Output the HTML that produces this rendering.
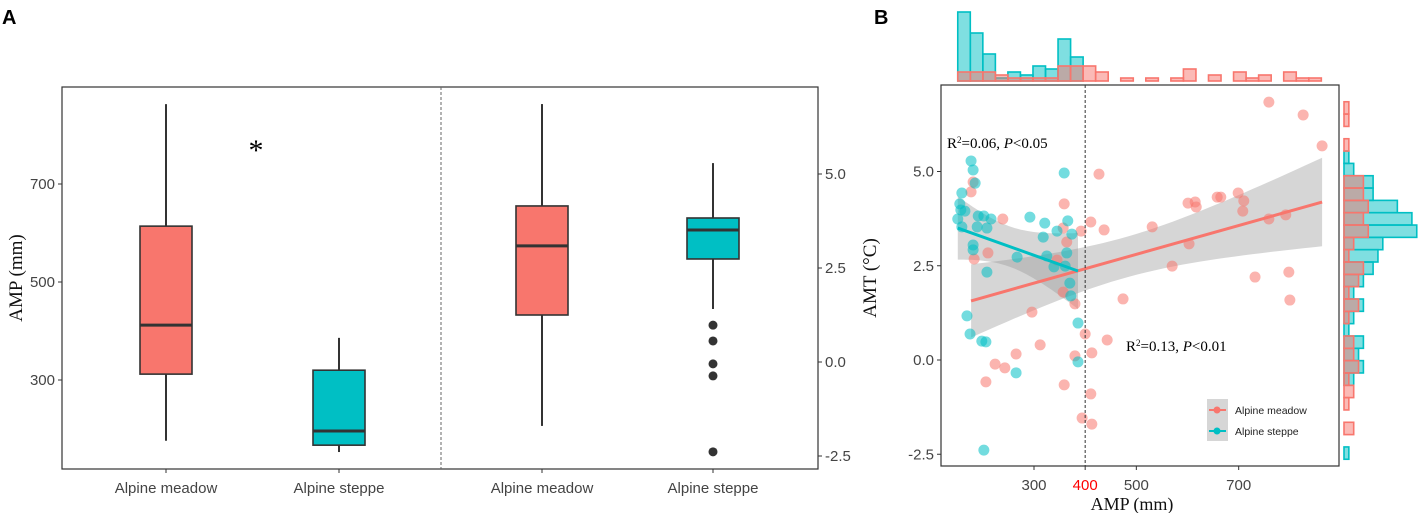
<!DOCTYPE html>
<html><head><meta charset="utf-8">
<style>
html,body{margin:0;padding:0;background:#fff;}
svg{display:block;}
text{font-family:"Liberation Sans",Arial,sans-serif;}
.serif{font-family:"Liberation Serif","Times New Roman",serif;}
</style></head>
<body>
<svg id="chart" width="1418" height="513" viewBox="0 0 1418 513" xmlns="http://www.w3.org/2000/svg">
<text x="2" y="24" font-size="20" font-weight="bold">A</text>
<text x="874" y="24" font-size="20" font-weight="bold">B</text>
<g id="pa"></g>
<g id="pb"></g>
</svg>
<script>
// ---------- Panel A data ----------
const boxCategories = ["Alpine meadow","Alpine steppe"];
const ampStats = [[176,312,412,614,863],[153,167,196,320,386]]; // min,q1,med,q3,max (mm)
const amtStats = [[-1.70,1.25,3.09,4.15,6.86],[1.41,2.74,3.51,3.83,5.29]]; // °C
const amtOutliersSteppe = [0.98,0.56,-0.05,-0.37,-2.39];
const ampTicks = [300,500,700];
const amtTicks = [-2.5,0.0,2.5,5.0];

// ---------- Panel B data ----------
const meadowAMP = [759,826,863,427,181,177,359,601,615,617,658,665,699,710,708,759,792,239,411,437,531,357,392,364,603,183,210,345,570,732,798,800,357,380,474,296,400,443,312,265,380,413,224,243,206,359,411,394,413];
const meadowAMT = [6.84,6.50,5.68,4.93,4.72,4.46,4.14,4.16,4.19,4.06,4.32,4.32,4.43,4.22,3.95,3.74,3.85,3.74,3.66,3.45,3.53,3.50,3.42,3.13,3.08,2.68,2.84,2.65,2.49,2.20,2.33,1.59,1.80,1.49,1.62,1.27,0.69,0.53,0.40,0.16,0.11,0.19,-0.11,-0.21,-0.58,-0.66,-0.90,-1.54,-1.70];
const steppeAMP = [177,181,359,185,159,155,157,165,191,202,216,292,321,366,151,159,189,208,318,345,374,181,181,267,325,339,364,361,370,372,208,169,175,198,206,386,386,265,202];
const steppeAMT = [5.28,5.04,4.96,4.69,4.43,4.14,3.98,3.95,3.82,3.82,3.74,3.79,3.63,3.69,3.74,3.53,3.53,3.50,3.26,3.42,3.34,3.05,2.92,2.73,2.76,2.47,2.84,2.49,2.04,1.70,2.33,1.17,0.69,0.50,0.48,0.98,-0.05,-0.34,-2.39];
const meadowFit = [0.891, 0.003823]; // intercept, slope (reported fit)
const steppeFit = [4.233, -0.00485];
const xTicksB = [300,400,500,700];
const yTicksB = [-2.5,0.0,2.5,5.0];
const histAmpStart = 151, histAmpWidth = 24.5;
const histMeadowX = [3,3,3,2,1,1,1,1,5,5,5,3,0,1,0,1,0,1,4,0,2,0,3,1,2,0,3,1,1];
const histSteppeX = [23,16,9,1,3,2,5,4,14,8,0,0,0,0,0,0,0,0,0,0,0,0,0,0,0,0,0,0,0];
const histAmtTop = 6.85, histAmtWidth = 0.327;
const histMeadowY = [1,1,0,1,0,0,4,4,5,4,5,2,1,4,3,1,3,1,0,2,2,3,1,2,1,0,2,0,0];
const histSteppeY = [0,0,0,0,1,2,6,6,11,14,15,8,7,6,4,2,4,2,1,4,3,4,2,0,0,0,0,0,1];

const NS="http://www.w3.org/2000/svg";
const PINK="#F8766D", TEAL="#00BFC4";
function mk(parent,tag,attrs,txt){const e=document.createElementNS(NS,tag);for(const k in attrs)e.setAttribute(k,attrs[k]);if(txt!==undefined)e.textContent=txt;parent.appendChild(e);return e;}

// ---------- Panel A ----------
const pa=document.getElementById('pa');
const yL=v=>380-(v-300)*0.49;
const yR=v=>362-v*37.6;
const boxX=[166,339,542,713];
let r=mk(pa,'rect',{x:62,y:87,width:756,height:382,fill:'none',stroke:'#333','stroke-width':1.2});


let dl=mk(pa,'line',{x1:441,y1:87,x2:441,y2:469,stroke:'#666','stroke-dasharray':'3,2','stroke-width':1});


ampTicks.forEach(t=>{
  mk(pa,'line',{x1:58,x2:62,y1:yL(t),y2:yL(t),stroke:'#333'});
  const tl=mk(pa,'text',{x:55,y:yL(t)+5,'font-size':15,fill:'#444','text-anchor':'end'},String(t));
  
  
});
amtTicks.forEach(t=>{
  mk(pa,'line',{x1:818,x2:822,y1:yR(t),y2:yR(t),stroke:'#333'});
  const tl=mk(pa,'text',{x:825,y:yR(t)+5,'font-size':15,fill:'#444'},t.toFixed(1));
  
  
});
let yt=mk(pa,'text',{x:0,y:0,'font-size':19,class:'serif',fill:'#111','text-anchor':'middle',transform:'translate(22,278) rotate(-90)'},'AMP (mm)');


let yt2=mk(pa,'text',{x:0,y:0,'font-size':19,class:'serif',fill:'#111','text-anchor':'middle',transform:'translate(876,278) rotate(-90)'},'AMT (°C)');


function drawBox(cx,s,sc,col,name){
  const g=mk(pa,'g',{});
  
  
  mk(g,'line',{x1:cx,x2:cx,y1:sc(s[4]),y2:sc(s[3]),stroke:'#333','stroke-width':2});
  mk(g,'line',{x1:cx,x2:cx,y1:sc(s[1]),y2:sc(s[0]),stroke:'#333','stroke-width':2});
  mk(g,'rect',{x:cx-26,y:sc(s[3]),width:52,height:sc(s[1])-sc(s[3]),fill:col,stroke:'#333','stroke-width':1.6});
  mk(g,'line',{x1:cx-26,x2:cx+26,y1:sc(s[2]),y2:sc(s[2]),stroke:'#333','stroke-width':3});
}
drawBox(boxX[0],ampStats[0],yL,PINK,'amp-box-meadow');
drawBox(boxX[1],ampStats[1],yL,TEAL,'amp-box-steppe');
drawBox(boxX[2],amtStats[0],yR,PINK,'amt-box-meadow');
drawBox(boxX[3],amtStats[1],yR,TEAL,'amt-box-steppe');
amtOutliersSteppe.forEach(v=>{
  const c=mk(pa,'circle',{cx:boxX[3],cy:yR(v),r:4.5,fill:'#333'});
  
  
});
boxX.forEach((x,i)=>{
  mk(pa,'line',{x1:x,x2:x,y1:469,y2:473,stroke:'#333'});
  const t=mk(pa,'text',{x:x,y:493,'font-size':15,fill:'#444','text-anchor':'middle'},boxCategories[i%2]);
  
  
});
let ast=mk(pa,'text',{x:256,y:160,'font-size':30,class:'serif','text-anchor':'middle'},'*');



// ---------- Panel B ----------
const pb=document.getElementById('pb');
const xB=v=>1034+(v-300)*0.5117;
const yB=v=>360-v*37.7;
const topBase=81, topUnit=3.0;
function topHist(counts,col,fill,name){
  counts.forEach((c,i)=>{ if(!c)return;
    const x0=xB(histAmpStart+i*histAmpWidth), x1=xB(histAmpStart+(i+1)*histAmpWidth);
    const b=mk(pb,'rect',{x:x0,y:topBase-c*topUnit,width:x1-x0,height:c*topUnit,fill:fill,stroke:col,'stroke-width':1.6});
    
    
  });
}
topHist(histSteppeX,TEAL,'rgba(0,191,196,0.5)','top-hist-bar-steppe');
topHist(histMeadowX,PINK,'rgba(248,118,109,0.5)','top-hist-bar-meadow');
const rightBase=1344, rightUnit=4.85;
function rightHist(counts,col,fill,name){
  counts.forEach((c,i)=>{ if(!c)return;
    const y0=yB(histAmtTop-i*histAmtWidth), y1=yB(histAmtTop-(i+1)*histAmtWidth);
    const b=mk(pb,'rect',{x:rightBase,y:y0,width:c*rightUnit,height:y1-y0,fill:fill,stroke:col,'stroke-width':1.6});
    
    
  });
}
rightHist(histSteppeY,TEAL,'rgba(0,191,196,0.5)','right-hist-bar-steppe');
rightHist(histMeadowY,PINK,'rgba(248,118,109,0.5)','right-hist-bar-meadow');

function fit(xs,ys,coef){const n=xs.length;const mx=xs.reduce((a,b)=>a+b)/n;
 let sxx=0;xs.forEach(x=>{sxx+=(x-mx)**2;});
 const a=coef[0],b=coef[1];let sse=0;xs.forEach((x,i)=>{sse+=(ys[i]-a-b*x)**2;});
 return {a,b,mx,sxx,n,s:Math.sqrt(sse/(n-2)),min:Math.min(...xs),max:Math.max(...xs)};}
function band(f,name){
  const up=[],lo=[];
  for(let k=0;k<=40;k++){const x=f.min+(f.max-f.min)*k/40;const yh=f.a+f.b*x;
    const se=f.s*Math.sqrt(1/f.n+(x-f.mx)**2/f.sxx)*2.01;
    up.push(xB(x).toFixed(1)+','+yB(yh+se).toFixed(1));lo.unshift(xB(x).toFixed(1)+','+yB(yh-se).toFixed(1));}
  const p=mk(pb,'polygon',{points:up.concat(lo).join(' '),fill:'rgba(153,153,153,0.4)'});
  
  
}
const fM=fit(meadowAMP,meadowAMT,meadowFit), fS=fit(steppeAMP,steppeAMT,steppeFit);
band(fM,'ci-band-meadow');
band(fS,'ci-band-steppe');
meadowAMP.forEach((v,i)=>{
  const c=mk(pb,'circle',{cx:xB(v),cy:yB(meadowAMT[i]),r:5.5,fill:'rgba(248,118,109,0.55)'});
  
  
});
steppeAMP.forEach((v,i)=>{
  const c=mk(pb,'circle',{cx:xB(v),cy:yB(steppeAMT[i]),r:5.5,fill:'rgba(0,191,196,0.55)'});
  
  
});
function regLine(f,col,name){
  const l=mk(pb,'line',{x1:xB(f.min),y1:yB(f.a+f.b*f.min),x2:xB(f.max),y2:yB(f.a+f.b*f.max),stroke:col,'stroke-width':3});
  
  
}
regLine(fM,PINK,'trend-line-meadow');
regLine(fS,TEAL,'trend-line-steppe');
let vl=mk(pb,'line',{x1:xB(400),y1:85,x2:xB(400),y2:466,stroke:'#333','stroke-dasharray':'3,2','stroke-width':1});


let fr=mk(pb,'rect',{x:941,y:85,width:398,height:381,fill:'none',stroke:'#333','stroke-width':1.2});


xTicksB.forEach(t=>{
  mk(pb,'line',{x1:xB(t),x2:xB(t),y1:466,y2:470,stroke:'#333'});
  const tl=mk(pb,'text',{x:xB(t),y:490,'font-size':15,fill:t===400?'#ff0000':'#444','text-anchor':'middle'},String(t));
  
  
});
yTicksB.forEach(t=>{
  mk(pb,'line',{x1:937,x2:941,y1:yB(t),y2:yB(t),stroke:'#333'});
  const tl=mk(pb,'text',{x:934,y:yB(t)+5,'font-size':15,fill:'#444','text-anchor':'end'},t.toFixed(1));
  
  
});
let xt=mk(pb,'text',{x:1132,y:510,'font-size':18,class:'serif',fill:'#111','text-anchor':'middle'},'AMP (mm)');


</script>
<svg style="position:absolute;left:0;top:0" width="1418" height="513" xmlns="http://www.w3.org/2000/svg">
<text x="947" y="148" font-size="15" class="serif">R<tspan font-size="9" dy="-5">2</tspan><tspan dy="5">=0.06, </tspan><tspan font-style="italic">P</tspan>&lt;0.05</text>
<text x="1126" y="351" font-size="15" class="serif">R<tspan font-size="9" dy="-5">2</tspan><tspan dy="5">=0.13, </tspan><tspan font-style="italic">P</tspan>&lt;0.01</text>
<g>
<rect x="1207" y="399" width="21" height="42" fill="#d6d6d6"/>
<line x1="1209" y1="410" x2="1226" y2="410" stroke="#F8766D" stroke-width="2"/>
<circle cx="1217" cy="410" r="3.5" fill="#F8766D"/>
<text x="1235" y="414" font-size="10.5" fill="#222">Alpine meadow</text>
<line x1="1209" y1="431" x2="1226" y2="431" stroke="#00BFC4" stroke-width="2"/>
<circle cx="1217" cy="431" r="3.5" fill="#00BFC4"/>
<text x="1235" y="435" font-size="10.5" fill="#222">Alpine steppe</text>
</g>
</svg>
</body></html>
